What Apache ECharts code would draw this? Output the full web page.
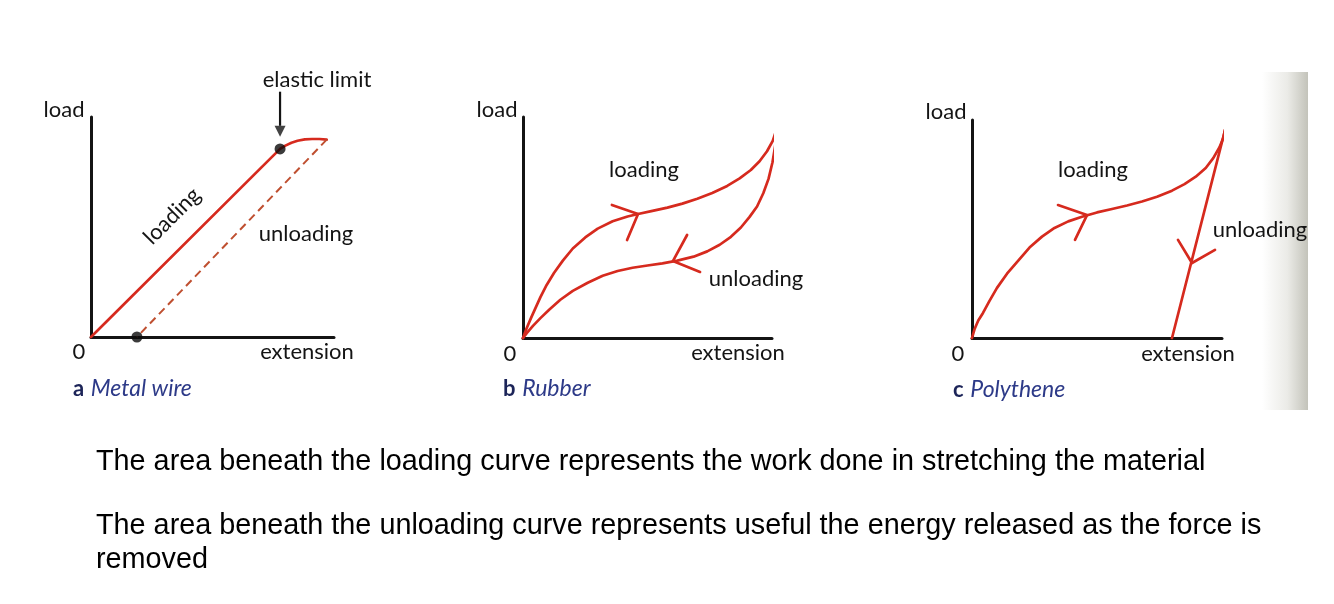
<!DOCTYPE html>
<html>
<head>
<meta charset="utf-8">
<script src="https://cdn.jsdelivr.net/npm/echarts@6/dist/echarts.min.js"></script>
<style>
  html, body { margin: 0; padding: 0; background: #fff; }
  #main { width: 1334px; height: 604px; }
</style>
</head>
<body>
<div id="main"></div>
<script>
// every panel uses 0..100 on both axes (extension, load)
// a: metal wire
var wireLoading = [[0, 0], [77.8, 85.5], [80, 87], [82.5, 88.3], [85, 89.2], [88, 89.8],
    [91, 90], [94, 90], [97, 89.7]];
var wireUnloading = [[97, 89.7], [18.9, 0]];
var wireDots = [[77.8, 85.5], [18.9, 0]];
var elasticShaft = [[77.8, 111.5], [77.8, 96]];
var elasticHead = [[77.8, 93.5]];

// b: rubber
var rubberLoading = [[0, 0], [1.5, 4.5], [3.2, 9], [5, 13.5], [7, 18.5], [9.5, 24], [12.5, 29.5],
    [16, 35], [20, 40.5], [25, 45.5], [30, 49.5], [36, 52.8], [42, 55], [46.2, 56.1], [52, 57.5],
    [58, 59], [64, 60.8], [70, 63], [76, 65.6], [82, 68.8], [87, 72.2], [91.5, 76], [95, 80],
    [98, 84.5], [100.3, 89.2], [102, 95]];
var rubberUnloading = [[102, 95], [101.3, 87], [100.2, 79.5], [98.6, 72], [96.5, 65.5], [94, 59.5],
    [91, 54.8], [87.5, 50], [83.5, 45.8], [79, 42.2], [74, 39.2], [68.5, 36.8], [62, 35], [56, 33.8],
    [50, 32.8], [44, 31.8], [38, 30.3], [32, 28.2], [26, 25], [20, 21.3], [15, 17.3], [10.5, 12.8],
    [7, 9], [4, 5.5], [1.5, 2.2], [0, 0]];
var rubberArrowUp = [[35.7, 60.2], [46.2, 56.1], [41.8, 44.3]];
var rubberArrowDown = [[65.9, 46.6], [60.2, 34.8], [71.1, 29.9]];

// c: polythene
var polyLoading = [[0, 0], [1, 4], [2.5, 8], [4.4, 11.5], [7, 17], [10, 23], [14, 29.5], [18.5, 35.5],
    [23, 41.5], [28, 46.5], [33, 50.5], [38.5, 53.5], [44, 55.6], [50, 57.6], [56, 59.2], [62, 60.8],
    [68, 62.6], [74, 64.8], [80, 67.6], [85, 70.6], [89.5, 74], [93.5, 78], [96.5, 82.5], [99, 87.5],
    [100.6, 92], [101.2, 95.4]];
var polyUnloading = [[101.2, 95.4], [80, 0]];
var polyArrowUp = [[34.4, 61], [46, 56.4], [41.2, 45]];
var polyArrowDown = [[82.4, 45], [88, 34.4], [97.2, 40.4]];

var red = '#d62a1e';
var ink = '#141414';
var labelFont = '22px Lato';

var chart = echarts.init(document.getElementById('main'));

function grid(left, top, width, height) {
    return { left: left, top: top, width: width, height: height, containLabel: false, outerBoundsMode: 'none' };
}
function axis(idx) {
    return {
        type: 'value', gridIndex: idx, min: 0, max: 100,
        axisLine: { show: true, onZero: false, lineStyle: { color: ink, width: 3 } },
        axisTick: { show: false }, axisLabel: { show: false }, splitLine: { show: false }
    };
}
function curve(idx, data, extra) {
    var s = {
        type: 'line', xAxisIndex: idx, yAxisIndex: idx, data: data,
        showSymbol: false, symbol: 'none', clip: false, silent: true,
        smooth: false,
        lineStyle: { color: red, width: 2.7, join: 'round', cap: 'round' }
    };
    for (var k in extra) s[k] = extra[k];
    return s;
}
function txt(x, y, text, opt) {
    var st = { text: text, x: 0, y: 0, font: labelFont, fill: ink, align: 'center', verticalAlign: 'middle' };
    for (var k in opt) st[k] = opt[k];
    return { type: 'text', x: x, y: y, z: 10, style: st };
}
function caption(x, y, letter, name) {
    return {
        type: 'text', x: x, y: y, z: 10,
        style: {
            text: '{l|' + letter + '}  {n|' + name + '}', verticalAlign: 'middle', align: 'left',
            rich: {
                l: { font: 'bold 22px Lato', fill: '#1c2458' },
                n: { font: 'italic 23px Lato', fill: '#2d3a88' }
            }
        }
    };
}
var noteFont = '28.8px "Liberation Sans"';

var option = {
    animation: false,
    grid: [grid(91, 117, 243, 220), grid(523, 117, 249, 221), grid(972, 120, 250, 218)],
    xAxis: [axis(0), axis(1), axis(2)],
    yAxis: [axis(0), axis(1), axis(2)],
    series: [
        curve(0, wireLoading),
        curve(0, wireUnloading, { lineStyle: { color: '#bf4f30', width: 2, type: [8, 5] } }),
        {
            type: 'scatter', xAxisIndex: 0, yAxisIndex: 0, data: wireDots, clip: false, silent: true,
            symbolSize: 11, itemStyle: { color: '#0a0a0a' }, z: 5
        },
        curve(0, elasticShaft, { lineStyle: { color: ink, width: 2.2 } }),
        {
            type: 'scatter', xAxisIndex: 0, yAxisIndex: 0, data: elasticHead, clip: false, silent: true,
            symbol: 'triangle', symbolRotate: 180, symbolSize: [11, 11], itemStyle: { color: ink }, z: 5
        },
        curve(1, rubberLoading),
        curve(1, rubberUnloading),
        curve(1, rubberArrowUp),
        curve(1, rubberArrowDown),
        curve(2, polyLoading),
        curve(2, polyUnloading),
        curve(2, polyArrowUp),
        curve(2, polyArrowDown)
    ],
    graphic: [
        {
            type: 'rect', z: 0, shape: { x: 1262, y: 72, width: 46, height: 338 },
            style: {
                fill: new echarts.graphic.LinearGradient(0, 0, 1, 0, [
                    { offset: 0, color: '#ffffff' },
                    { offset: 0.55, color: '#ebebe7' },
                    { offset: 1, color: '#c3c3ba' }
                ])
            }
        },
        // panel a
        txt(317, 80, 'elastic limit'),
        txt(64, 110, 'load'),
        txt(79, 352, '0'),
        txt(307, 352, 'extension'),
        txt(306, 234, 'unloading'),
        { type: 'text', x: 172, y: 216, rotation: Math.PI / 4, z: 10,
          style: { text: 'loading', font: labelFont, fill: ink, align: 'center', verticalAlign: 'middle' } },
        caption(73, 389, 'a', 'Metal wire'),
        // panel b
        txt(497, 110, 'load'),
        txt(510, 354, '0'),
        txt(738, 353, 'extension'),
        txt(644, 170, 'loading'),
        txt(756, 279, 'unloading'),
        caption(503, 389, 'b', 'Rubber'),
        // panel c
        txt(946, 112, 'load'),
        txt(958, 354, '0'),
        txt(1188, 354, 'extension'),
        txt(1093, 170, 'loading'),
        txt(1260, 230, 'unloading'),
        caption(953, 390, 'c', 'Polythene'),
        // notes
        txt(96, 462, 'The area beneath the loading curve represents the work done in stretching the material',
            { font: noteFont, fill: '#000', align: 'left' }),
        txt(96, 526, 'The area beneath the unloading curve represents useful the energy released as the force is',
            { font: noteFont, fill: '#000', align: 'left' }),
        txt(96, 560, 'removed', { font: noteFont, fill: '#000', align: 'left' })
    ]
};
chart.setOption(option);
</script>
</body>
</html>
